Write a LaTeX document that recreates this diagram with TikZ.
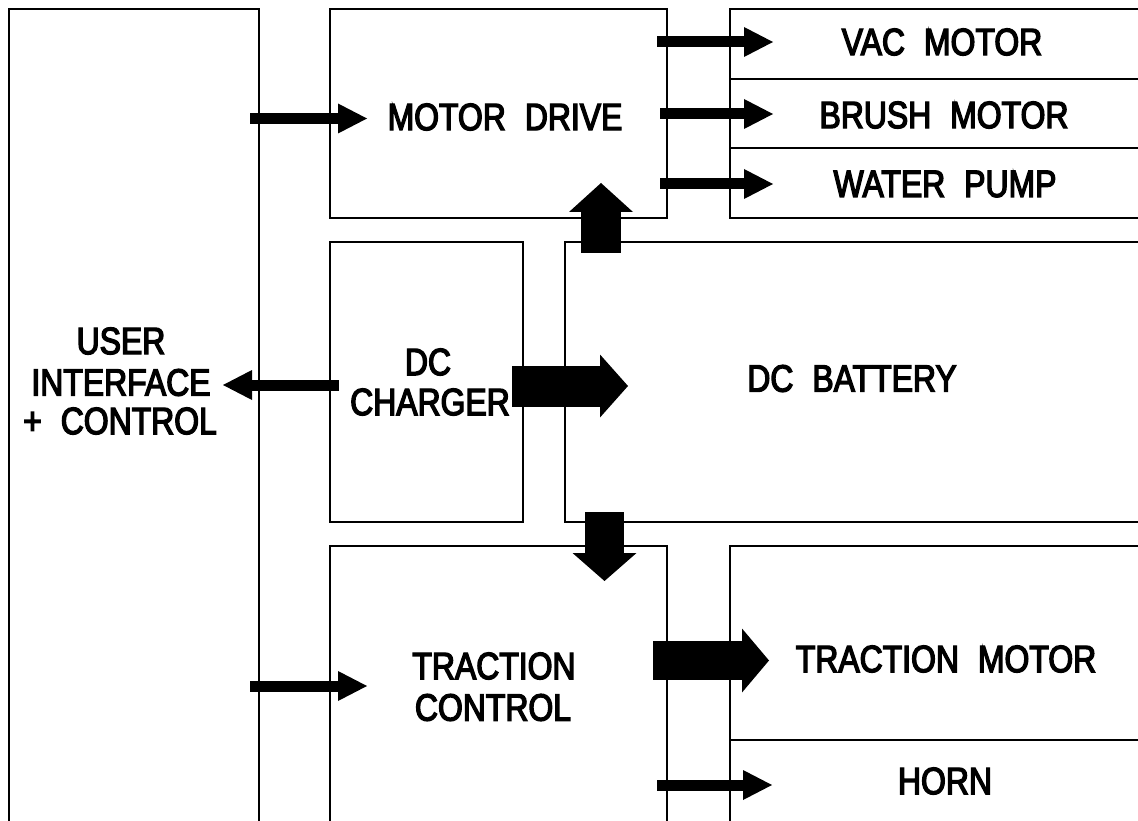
\documentclass[tikz,border=0pt]{standalone}
\usepackage{fontspec}
\setmainfont{Liberation Sans}[FakeStretch=0.84,FakeBold=3.5]
\usetikzlibrary{arrows.meta}
\newcommand\wsp{\hspace{19pt}}
\tikzset{
  blk/.style={draw, line width=2pt, inner sep=0pt, outer sep=0pt},
  lbl/.style={inner sep=0pt, outer sep=0pt, font=\fontsize{38}{40}\selectfont},
  thin/.style={line width=11pt, -{Triangle[length=29pt,width=30pt,line width=0pt]}},
  fat/.style={line width=40pt, -{Triangle[length=28pt,width=64pt,line width=0pt]}},
}
\begin{document}
\begin{tikzpicture}[x=1pt,y=-1pt]
\useasboundingbox (0,0) rectangle (1138,821);
\clip (0,0) rectangle (1138,821);
\fill[white] (0,0) rectangle (1138,821);
% boxes
\node[blk, minimum width=250pt, minimum height=861pt] (ui) at (134,439.5) {};
\node[blk, minimum width=337pt, minimum height=209pt] (md) at (498.5,113.5) {};
\node[blk, minimum width=450pt, minimum height=70pt] (vac) at (955,44) {};
\node[blk, minimum width=450pt, minimum height=69pt] (brush) at (955,113.5) {};
\node[blk, minimum width=450pt, minimum height=70pt] (pump) at (955,183) {};
\node[blk, minimum width=193pt, minimum height=280pt] (chg) at (426.5,382) {};
\node[blk, minimum width=615pt, minimum height=280pt] (bat) at (872.5,382) {};
\node[blk, minimum width=337pt, minimum height=324pt] (tc) at (498.5,708) {};
\node[blk, minimum width=450pt, minimum height=194pt] (tm) at (955,643) {};
\node[blk, minimum width=450pt, minimum height=130pt] (horn) at (955,805) {};
% labels
\node[lbl] (mdt) at (505,117) {MOTOR\wsp DRIVE};
\node[lbl] (vact) at (942,42) {VAC\wsp MOTOR};
\node[lbl] (brusht) at (944,115) {BRUSH\wsp MOTOR};
\node[lbl] (pumpt) at (945,184) {WATER\wsp PUMP};
\node[lbl] (uit1) at (121,341) {USER};
\node[lbl] (uit2) at (121,382.5) {INTERFACE};
\node[lbl] (uit3) at (120,421) {+\wsp CONTROL};
\node[lbl] (chgt1) at (428,362) {DC};
\node[lbl] (chgt2) at (430,402) {CHARGER};
\node[lbl] (batt) at (852,378.5) {DC\wsp BATTERY};
\node[lbl] (tct1) at (494,666) {TRACTION};
\node[lbl] (tct2) at (493,707.5) {CONTROL};
\node[lbl] (tmt) at (946,659) {TRACTION\wsp MOTOR};
\node[lbl] (hornt) at (945,781) {HORN};
% arrow end points
\coordinate (uiA) at (250,118.5);   \coordinate (mdA) at (367,118.5);
\coordinate (mdV) at (657,42);      \coordinate (vacA) at (773,42);
\coordinate (mdB) at (660,114);     \coordinate (brushA) at (773,114);
\coordinate (mdP) at (660,184);     \coordinate (pumpA) at (773,184);
\coordinate (chgU) at (339,385);    \coordinate (uiC) at (223,385);
\coordinate (uiT) at (250,686);     \coordinate (tcA) at (367,686);
\coordinate (tcH) at (657,785);     \coordinate (hornA) at (772,785);
\coordinate (chgB) at (512,386);    \coordinate (batA) at (628,386);
\coordinate (batM) at (601,253);    \coordinate (mdF) at (601,183);
\coordinate (batT) at (604.5,512);  \coordinate (tcF) at (604.5,581);
\coordinate (tcM) at (653,660.5);   \coordinate (tmA) at (769,660.5);
% connectors
\draw[thin] (uiA) -- (mdA);
\draw[thin] (mdV) -- (vacA);
\draw[thin] (mdB) -- (brushA);
\draw[thin] (mdP) -- (pumpA);
\draw[thin] (chgU) -- (uiC);
\draw[thin] (uiT) -- (tcA);
\draw[thin] (tcH) -- (hornA);
\draw[fat, line width=41pt, -{Triangle[length=28pt,width=63pt,line width=0pt]}] (chgB) -- (batA);
\draw[fat, -{Triangle[length=29pt,width=64pt,line width=0pt]}] (batM) -- (mdF);
\draw[fat, line width=39pt] (batT) -- (tcF);
\draw[fat, line width=39pt, -{Triangle[length=27pt,width=64pt,line width=0pt]}] (tcM) -- (tmA);
\end{tikzpicture}
\end{document}
